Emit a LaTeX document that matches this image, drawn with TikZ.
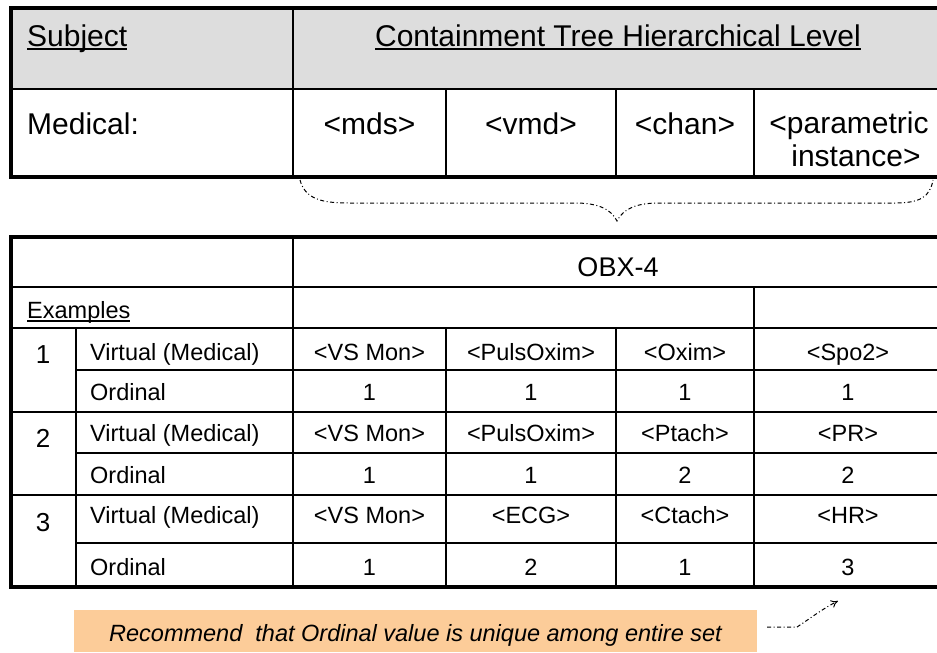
\documentclass[tikz,border=0pt]{standalone}
\usepackage{fontspec}
\setmainfont{Liberation Sans}
\usetikzlibrary{arrows.meta}
\definecolor{hdrgray}{RGB}{221,221,221}
\definecolor{recorange}{RGB}{252,204,153}
\newcommand{\myul}[1]{\setbox0\hbox{#1}\rlap{\rule[-4pt]{\wd0}{1.6pt}}\box0}
\begin{document}
\begin{tikzpicture}[x=1pt,y=-1pt,
  thinline/.style={line width=1.5pt},
  midline/.style={line width=2pt},
  outerline/.style={line width=3.6pt},
  bigtxt/.style={font=\fontsize{30}{34}\selectfont, inner sep=0pt},
  celltxt/.style={font=\fontsize{23.5}{27}\selectfont, inner sep=0pt},
  numtxt/.style={font=\fontsize{26}{30}\selectfont, inner sep=0pt},
  dashdot/.style={line width=1pt, dash pattern=on 4pt off 2.5pt on 1pt off 2.5pt}]
\useasboundingbox (0,0) rectangle (937,653);
\clip (0,0) rectangle (937,653);

% ---------- top table ----------
\fill[hdrgray] (11,8) rectangle (950,89);
\draw[line width=2.4pt] (11,89) -- (950,89);
\draw[thinline] (293,8) -- (293,177);
\draw[thinline] (446,89) -- (446,177);
\draw[thinline] (616,89) -- (616,177);
\draw[thinline] (754,89) -- (754,177);
\draw[outerline] (11,8) rectangle (950,177);

\node[bigtxt, anchor=base west] (subj) at (27,46) {\myul{Subject}};
\node[bigtxt, anchor=base] (ctree) at (618,46) {\myul{Containment Tree Hierarchical Level}};
\node[bigtxt, anchor=base west] (med) at (27,134) {Medical:};
\node[bigtxt, anchor=base] (mds) at (369.5,134) {<mds>};
\node[bigtxt, anchor=base] (vmd) at (531,134) {<vmd>};
\node[bigtxt, anchor=base] (chan) at (685,134) {<chan>};
\node[bigtxt, anchor=base] (param1) at (849,133) {<parametric};
\node[bigtxt, anchor=base] (param2) at (856,166) {instance>};

% brace
\draw[dashdot] (300,180) .. controls (305,199) and (322,203) .. (348,203)
  -- (575,203) .. controls (598,203) and (611,209) .. (617,221)
  .. controls (623,209) and (636,203) .. (659,203)
  -- (895,203) .. controls (920,203) and (930,197) .. (933,180);

% ---------- bottom table ----------
\draw[midline] (11,287) -- (950,287);
\draw[midline] (11,328) -- (950,328);
\draw[thinline] (76,370) -- (950,370);
\draw[midline] (11,412) -- (950,412);
\draw[thinline] (76,453) -- (950,453);
\draw[midline] (11,495) -- (950,495);
\draw[thinline] (76,543) -- (950,543);
\draw[thinline] (76,328) -- (76,587);
\draw[thinline] (293,237) -- (293,587);
\draw[thinline] (754,287) -- (754,587);
\draw[thinline] (446,328) -- (446,587);
\draw[thinline] (616,328) -- (616,587);
\draw[outerline] (11,237) rectangle (950,587);

\node[font=\fontsize{27}{30}\selectfont, inner sep=0pt, anchor=base] (obx) at (618,276) {OBX-4};
\node[celltxt, anchor=base west] (ex) at (27,318) {\myul{Examples}};

% example 1
\node[numtxt, anchor=base] (n1) at (43,363) {1};
\node[celltxt, anchor=base west] (v1) at (90,360) {Virtual (Medical)};
\node[celltxt, anchor=base] (a1) at (369.5,360) {<VS Mon>};
\node[celltxt, anchor=base] (b1) at (531,360) {<PulsOxim>};
\node[celltxt, anchor=base] (c1) at (685,360) {<Oxim>};
\node[celltxt, anchor=base] (d1) at (848,360) {<Spo2>};
\node[celltxt, anchor=base west] (o1) at (90,400) {Ordinal};
\node[celltxt, anchor=base] (oa1) at (369.5,400) {1};
\node[celltxt, anchor=base] (ob1) at (531,400) {1};
\node[celltxt, anchor=base] (oc1) at (685,400) {1};
\node[celltxt, anchor=base] (od1) at (848,400) {1};

% example 2
\node[numtxt, anchor=base] (n2) at (43,447) {2};
\node[celltxt, anchor=base west] (v2) at (90,441) {Virtual (Medical)};
\node[celltxt, anchor=base] (a2) at (369.5,441) {<VS Mon>};
\node[celltxt, anchor=base] (b2) at (531,441) {<PulsOxim>};
\node[celltxt, anchor=base] (c2) at (685,441) {<Ptach>};
\node[celltxt, anchor=base] (d2) at (848,441) {<PR>};
\node[celltxt, anchor=base west] (o2) at (90,483) {Ordinal};
\node[celltxt, anchor=base] (oa2) at (369.5,483) {1};
\node[celltxt, anchor=base] (ob2) at (531,483) {1};
\node[celltxt, anchor=base] (oc2) at (685,483) {2};
\node[celltxt, anchor=base] (od2) at (848,483) {2};

% example 3
\node[numtxt, anchor=base] (n3) at (43,531) {3};
\node[celltxt, anchor=base west] (v3) at (90,523) {Virtual (Medical)};
\node[celltxt, anchor=base] (a3) at (369.5,523) {<VS Mon>};
\node[celltxt, anchor=base] (b3) at (531,523) {<ECG>};
\node[celltxt, anchor=base] (c3) at (685,523) {<Ctach>};
\node[celltxt, anchor=base] (d3) at (848,523) {<HR>};
\node[celltxt, anchor=base west] (o3) at (90,575) {Ordinal};
\node[celltxt, anchor=base] (oa3) at (369.5,575) {1};
\node[celltxt, anchor=base] (ob3) at (531,575) {2};
\node[celltxt, anchor=base] (oc3) at (685,575) {1};
\node[celltxt, anchor=base] (od3) at (848,575) {3};

% recommendation
\fill[recorange] (74,610) rectangle (757,652);
\node[celltxt, font=\fontsize{23.5}{27}\selectfont\itshape, anchor=base] (rec) at (415.5,641) {Recommend~ that Ordinal value is unique among entire set};
\coordinate (arrs) at (767,627);
\coordinate (arre) at (838,601);
\draw[dashdot, -{To[length=7pt,width=8pt]}] (arrs) -- (797,627) .. controls (808,620) and (822,609) .. (arre);
\end{tikzpicture}
\end{document}
